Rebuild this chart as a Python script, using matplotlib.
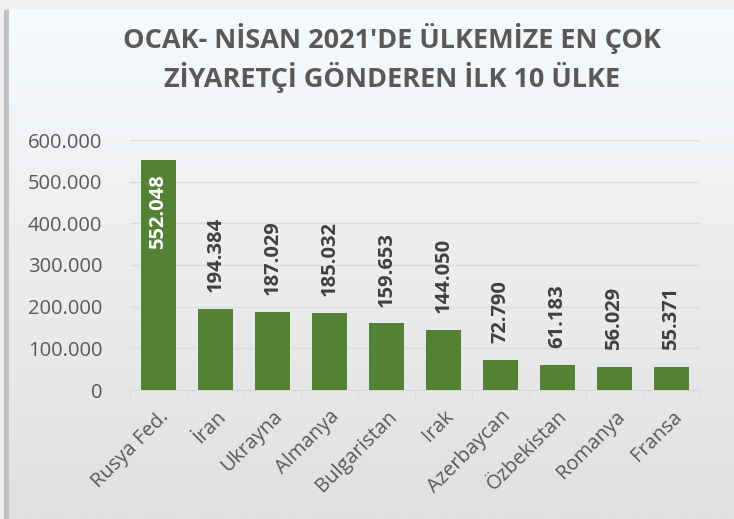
import numpy as np
import matplotlib.pyplot as plt
from matplotlib.ticker import FuncFormatter, FixedLocator

countries = ["Rusya Fed.", "İran", "Ukrayna", "Almanya", "Bulgaristan",
             "Irak", "Azerbaycan", "Özbekistan", "Romanya", "Fransa"]
visitors = [552048, 194384, 187029, 185032, 159653,
            144050, 72790, 61183, 56029, 55371]

title = "OCAK- NİSAN 2021'DE ÜLKEMİZE EN ÇOK\nZİYARETÇİ GÖNDEREN İLK 10 ÜLKE"

def dotted(v):
    return f"{int(v):,}".replace(",", ".")

plt.rcParams['font.family'] = ['Open Sans', 'DejaVu Sans']
text_gray = "#595959"
bar_green = "#548235"

fig = plt.figure(figsize=(7.34, 5.19), dpi=100)
fig.patch.set_facecolor("#f0f0f0")

# panel background with vertical gradient and a shadow on the left
bg = fig.add_axes([0, 0, 1, 1], zorder=-10)
bg.set_xlim(0, 734)
bg.set_ylim(519, 0)
bg.axis("off")
bg.add_patch(plt.Rectangle((4, 10), 734, 515, color="#9a9a9a", alpha=0.6, lw=0))
bg.add_patch(plt.Rectangle((6, 9), 734, 515, color="#c8c8c8", alpha=0.8, lw=0))
grad = np.linspace(0, 1, 256).reshape(-1, 1)
top = np.array([247, 250, 253]) / 255
bot = np.array([224, 224, 224]) / 255
img = top + grad[..., None] * (bot - top)
bg.imshow(img, extent=(9, 734, 519, 9), aspect="auto", zorder=1)

ax = fig.add_axes([130 / 734, 1 - 390 / 519, 570 / 734, 250 / 519])
ax.patch.set_alpha(0)
x = np.arange(len(countries))
ax.bar(x, visitors, width=0.63, color=bar_green, zorder=3)

ax.set_xlim(-0.5, len(countries) - 0.5)
ax.set_ylim(0, 600000)
ax.yaxis.set_major_locator(FixedLocator(np.arange(0, 600001, 100000)))
ax.yaxis.set_major_formatter(FuncFormatter(lambda v, p: dotted(v)))
ax.grid(axis="y", color="#dcdcdc", lw=1, zorder=0)
for s in ["top", "right", "left"]:
    ax.spines[s].set_visible(False)
ax.spines["bottom"].set_color("#d9d9d9")
ax.tick_params(axis="y", length=0, labelsize=14.5, labelcolor=text_gray, pad=20)
ax.set_xticks(x)
ax.set_xticklabels(countries, rotation=45, ha="right", rotation_mode="anchor",
                   fontsize=14.5, color=text_gray)
ax.xaxis.set_minor_locator(FixedLocator(np.arange(-0.5, len(countries), 1)))
ax.tick_params(axis="x", which="major", length=0, pad=12)
ax.tick_params(axis="x", which="minor", length=6, color="#d9d9d9")

for i, v in enumerate(visitors):
    if i == 0:
        ax.text(i, v - 35000, dotted(v), rotation=90, ha="center", va="top",
                color="white", fontsize=14.5, fontweight="bold")
    else:
        ax.text(i, v + 40000, dotted(v), rotation=90, ha="center", va="bottom",
                color="#404040", fontsize=14.5, fontweight="bold")

fig.text(392 / 734, 1 - 58 / 519, title, ha="center", va="center",
         fontsize=19.5, fontweight="bold", color=text_gray, linespacing=1.3)

fig.savefig("out.png", dpi=100, facecolor=fig.get_facecolor())
